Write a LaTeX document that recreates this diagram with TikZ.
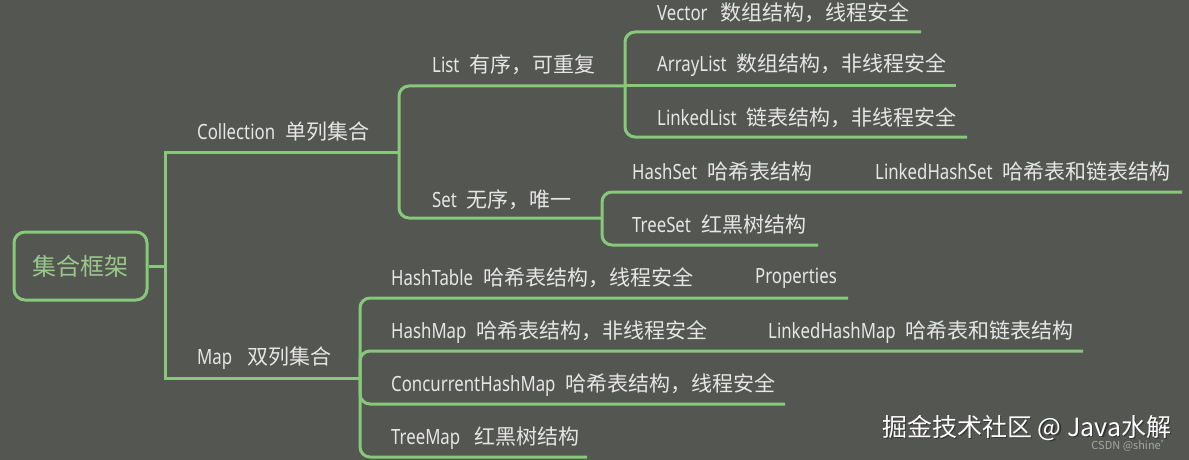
\documentclass[tikz,border=0pt]{standalone}
\usepackage{fontspec}
\setmainfont{Noto Sans CJK SC}
\newfontfamily\enf[FakeStretch=0.8]{Noto Sans}
\definecolor{bgc}{HTML}{545652}
\definecolor{linec}{HTML}{88C87A}
\definecolor{txtc}{HTML}{E6E6E6}
\definecolor{rootc}{HTML}{9AC88A}
\newcommand{\mylbl}[3][10pt]{{\enf #2}\hspace{#1}#3}
\begin{document}
\begin{tikzpicture}[x=1pt,y=-1pt,
  lbl/.style={anchor=west, inner sep=0pt, text=txtc, font=\fontsize{21}{24}\selectfont},
  conn/.style={draw=linec, line width=3pt, rounded corners=10pt},
  bus/.style={draw=linec, line width=3pt},
  rootbox/.style={draw=linec, line width=3pt, rounded corners=11pt, minimum width=133pt, minimum height=68pt, inner sep=0pt, text=rootc, font=\fontsize{24}{28}\selectfont}]
\fill[bgc] (0,0) rectangle (1189,460);
\useasboundingbox (0,0) rectangle (1189,460);

% root
\node[rootbox] (root) at (80.5,266) {集合框架};
\coordinate (rootJ) at (165,266);
\coordinate (collE) at (399,152);
\coordinate (mapE) at (360,378);
\coordinate (listE) at (625,86);
\coordinate (setE) at (602,218);
\coordinate (vecE) at (921,32);
\coordinate (alE) at (956,86);
\coordinate (llE) at (967,137);
\coordinate (hsE) at (1182,192);
\coordinate (tsE) at (818,245);
\coordinate (htE) at (848,298);
\coordinate (hmE) at (1083,351);
\coordinate (chmE) at (785,404);
\coordinate (tmE) at (587,457);

% connectors
\draw[bus] (root.east) -- (rootJ);
\draw[bus] (rootJ) |- (collE);
\draw[bus] (rootJ) |- (mapE);
\draw[conn] (collE) |- (listE);
\draw[conn] (collE) |- (setE);
\draw[conn] (listE) |- (vecE);
\draw[conn] (listE) -- (alE);
\draw[conn] (listE) |- (llE);
\draw[conn] (setE) |- (hsE);
\draw[conn] (setE) |- (tsE);
\draw[conn] (mapE) |- (htE);
\draw[conn] (mapE) |- (hmE);
\draw[conn] (mapE) |- (chmE);
\draw[conn] (mapE) |- (tmE);

% labels
\node[lbl] (coll) at (197,132) {\mylbl{Collection}{单列集合}};
\node[lbl] (map) at (197,358) {\mylbl[15pt]{Map}{双列集合}};
\node[lbl] (list) at (432,65) {\mylbl{List}{有序，可重复}};
\node[lbl] (set) at (432,200) {\mylbl{Set}{无序，唯一}};
\node[lbl] (vec) at (657,13) {\mylbl[13pt]{Vector}{数组结构，线程安全}};
\node[lbl] (al) at (657,65) {\mylbl{ArrayList}{数组结构，非线程安全}};
\node[lbl] (ll) at (657,118) {\mylbl{LinkedList}{链表结构，非线程安全}};
\node[lbl] (hs) at (632,172) {\mylbl{HashSet}{哈希表结构}};
\node[lbl] (lhs) at (875,172) {\mylbl{LinkedHashSet}{哈希表和链表结构}};
\node[lbl] (ts) at (632,225) {\mylbl{TreeSet}{红黑树结构}};
\node[lbl] (ht) at (391,278) {\mylbl{HashTable}{哈希表结构，线程安全}};
\node[lbl] (prop) at (755,278) {\enf Properties};
\node[lbl] (hm) at (391,332) {\mylbl{HashMap}{哈希表结构，非线程安全}};
\node[lbl] (lhm) at (768,332) {\mylbl{LinkedHashMap}{哈希表和链表结构}};
\node[lbl] (chm) at (391,385) {\mylbl{ConcurrentHashMap}{哈希表结构，线程安全}};
\node[lbl] (tm) at (391,438) {\mylbl[14pt]{TreeMap}{红黑树结构}};

% watermark
\node[anchor=west, inner sep=0pt, text=black!80, font=\fontsize{25}{28}\selectfont] (wms) at (883.5,429.5) {掘金技术社区 @ Java水解};
\node[anchor=west, inner sep=0pt, text=white, font=\fontsize{25}{28}\selectfont] (wm) at (882,428) {掘金技术社区 @ Java水解};
\node[anchor=east, inner sep=0pt, text=black!35, font=\fontsize{11}{12}\selectfont] (csdn) at (1172,446) {CSDN @shine'};
\end{tikzpicture}
\end{document}
